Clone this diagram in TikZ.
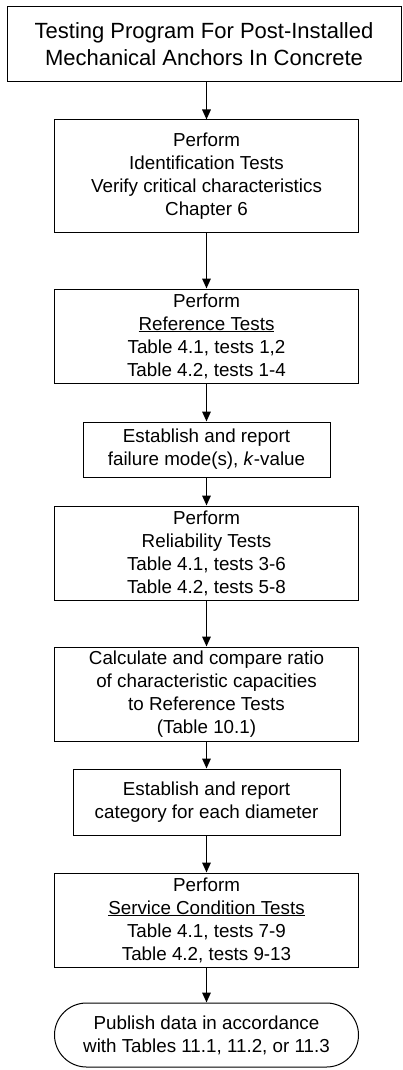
\documentclass[tikz,border=0pt]{standalone}
\usepackage{fontspec}
\setmainfont{Liberation Sans}
\usetikzlibrary{arrows.meta}
\tikzset{
  stepbox/.style={draw,line width=1pt,align=center,inner sep=0pt,
    font=\fontsize{18.8}{23}\selectfont},
  flowarrow/.style={-{Triangle[length=10pt,width=8.5pt]},line width=1.6pt}
}
\begin{document}
\begin{tikzpicture}[x=1pt,y=1pt]
			\useasboundingbox (0,0) rectangle (402,-1070);
			% Title
			\node[stepbox,minimum width=394pt,minimum height=75pt,font=\fontsize{22}{27}\selectfont]
				(title) at (204,-44.5) {Testing Program For Post-Installed\\Mechanical Anchors In Concrete};
			% Identification
			\node[stepbox,minimum width=304pt,minimum height=112pt] (ident) at (206.5,-176)
				{Perform\\Identification Tests\\Verify critical characteristics\\Chapter 6};
			% Reference
			\node[stepbox,minimum width=304pt,minimum height=94pt] (ref) at (206.5,-336)
				{Perform\\\underline{Reference Tests}\\Table 4.1, tests 1,2\\Table 4.2, tests 1-4};
			% Failure mode
			\node[stepbox,minimum width=247pt,minimum height=55pt] (fail) at (206.5,-449.5)
				{Establish and report\\failure mode(s), \textit{k}-value};
			% Reliability
			\node[stepbox,minimum width=304pt,minimum height=94pt] (rel) at (206.5,-553)
				{Perform\\Reliability Tests\\Table 4.1, tests 3-6\\Table 4.2, tests 5-8};
			% Ratio
			\node[stepbox,minimum width=304pt,minimum height=94pt] (ratio) at (206.5,-694)
				{Calculate and compare ratio\\of characteristic capacities\\to Reference Tests\\(Table 10.1)};
			% Category
			\node[stepbox,minimum width=267pt,minimum height=66pt] (cat) at (206.5,-802)
				{Establish and report\\category for each diameter};
			% Service
			\node[stepbox,minimum width=304pt,minimum height=94pt] (serv) at (206.5,-920)
				{Perform\\\underline{Service Condition Tests}\\Table 4.1, tests 7-9\\Table 4.2, tests 9-13};
			% Publish
			\node[stepbox,minimum width=304pt,minimum height=64pt,rounded corners=32pt] (pub) at (206.5,-1035)
				{Publish data in accordance\\with Tables 11.1, 11.2, or 11.3};
			% Arrows
			\draw[flowarrow] (title.south -| ident.north) -- (ident);
			\draw[flowarrow] (ident) -- (ref);
			\draw[flowarrow] (ref) -- (fail);
			\draw[flowarrow] (fail) -- (rel);
			\draw[flowarrow] (rel) -- (ratio);
			\draw[flowarrow] (ratio) -- (cat);
			\draw[flowarrow] (cat) -- (serv);
			\draw[flowarrow] (serv) -- (pub);
		\end{tikzpicture}
\end{document}
